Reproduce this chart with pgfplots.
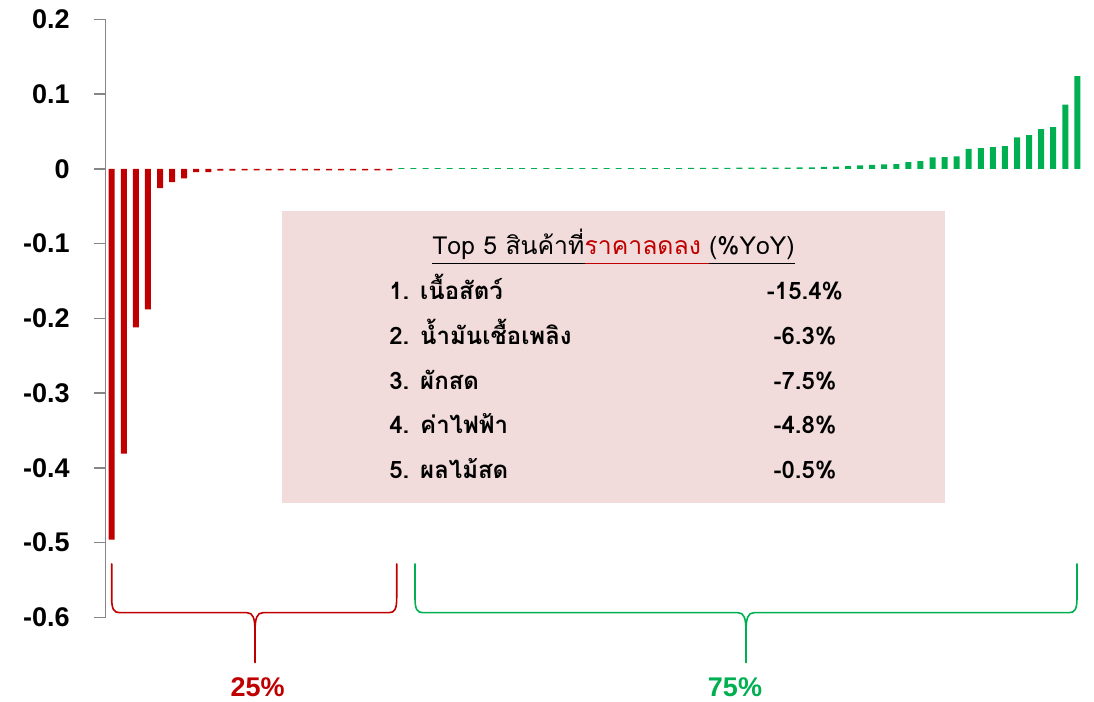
\documentclass[border=0pt]{standalone}
\usepackage{pgfplots}
\pgfplotsset{compat=1.18}
\usepackage{fontspec}
\setmainfont{Liberation Sans}
\newfontfamily\thaifont[Script=Thai]{Loma}
\definecolor{cred}{HTML}{C00000}
\definecolor{cgreen}{HTML}{00B050}
\definecolor{boxpink}{HTML}{F2DCDB}
\definecolor{axgray}{HTML}{868686}
\newcommand\ul[1]{\underline{#1\vphantom{(p}}}
\newcommand\mybrace[4]{%
  \draw[#4, line width=0.8pt, line cap=round] (#1,564) -- (#1,598) .. controls (#1,609) and ({#1+2},612.7) .. ({#1+8},612.7) -- ({#3-8},612.7) .. controls ({#3-2},612.7) and (#3,618) .. (#3,632) -- (#3,662.7);
  \draw[#4, line width=0.8pt, line cap=round] (#2,564) -- (#2,598) .. controls (#2,609) and ({#2-2},612.7) .. ({#2-8},612.7) -- ({#3+8},612.7) .. controls ({#3+2},612.7) and (#3,618) .. (#3,632);
}
\begin{document}
\begin{tikzpicture}
\path[use as bounding box] (0,0) rectangle (547pt,351pt);
\begin{axis}[
  at={(52.85pt,42.35pt)}, anchor=south west,
  scale only axis, width=488.85pt, height=299pt,
  xmin=0.5, xmax=81.5, ymin=-0.6, ymax=0.2,
  axis y line=left, axis x line=none,
  y axis line style={-, axgray, line width=0.75pt},
  ytick={-0.6,-0.5,-0.4,-0.3,-0.2,-0.1,0,0.1,0.2},
  yticklabels={-0.6,-0.5,-0.4,-0.3,-0.2,-0.1,0,0.1,0.2},
  tick align=outside, major tick length=5.85pt,
  ytick style={axgray, line width=0.75pt},
  yticklabel style={font=\bfseries\fontsize{13.5}{16}\selectfont, inner sep=0pt, xshift=-12pt},
  clip=false,
]
\addplot[ybar, bar width=3pt, bar shift=0pt, fill=cred, draw=none] coordinates {
(1,-0.496) (2,-0.381) (3,-0.212) (4,-0.188) (5,-0.026) (6,-0.018) (7,-0.0127) (8,-0.0046)
(9,-0.0046) (10,-0.0025) (11,-0.0025) (12,-0.002) (13,-0.002) (14,-0.002) (15,-0.002)
(16,-0.002) (17,-0.002) (18,-0.002) (19,-0.002) (20,-0.002) (21,-0.002) (22,-0.002)
(23,-0.002) (24,-0.002)
};
\addplot[ybar, bar width=3pt, bar shift=0pt, fill=cgreen, draw=none] coordinates {
(25,0.0009) (26,0.0009) (27,0.0009) (28,0.0009) (29,0.0009) (30,0.0009) (31,0.0009) (32,0.0009)
(33,0.0009) (34,0.0009) (35,0.0009) (36,0.0009) (37,0.0009) (38,0.0009) (39,0.0009) (40,0.0009)
(41,0.0009) (42,0.0009) (43,0.0009) (44,0.0009) (45,0.0009) (46,0.0009) (47,0.0009) (48,0.0009)
(49,0.0012) (50,0.0012) (51,0.0012) (52,0.0012)
(53,0.0015) (54,0.0015) (55,0.0015) (56,0.0015) (57,0.0015)
(58,0.002) (59,0.002) (60,0.0027) (61,0.003) (62,0.0036) (63,0.0045) (64,0.0054) (65,0.006)
(66,0.0062) (67,0.009) (68,0.0103) (69,0.0152) (70,0.0156) (71,0.0165) (72,0.0268) (73,0.0276)
(74,0.029) (75,0.0303) (76,0.042) (77,0.045) (78,0.053) (79,0.0558) (80,0.086) (81,0.124)
};
\end{axis}
\begin{scope}[shift={(0pt,351pt)}, x=0.5pt, y=-0.5pt]
\fill[boxpink] (282,211) rectangle (945,503);
\node[anchor=base, inner sep=0pt, font=\thaifont\fontsize{12.4}{14}\selectfont] at (613.5,255)
  {\ul{Top 5 สินค้าที่}\textcolor{cred}{\ul{ราคาลดลง }}\ul{(\%YoY)}};
\begin{scope}[every node/.style={inner sep=0pt, font=\thaifont\bfseries\fontsize{12}{14}\selectfont}]
\node[anchor=base west] at (389,300) {1. เนื้อสัตว์};
\node[anchor=base west] at (389,345) {2. น้ำมันเชื้อเพลิง};
\node[anchor=base west] at (389,389.5) {3. ผักสด};
\node[anchor=base west] at (389,434) {4. ค่าไฟฟ้า};
\node[anchor=base west] at (389,479) {5. ผลไม้สด};
\node[anchor=base] at (805,300) {-15.4\%};
\node[anchor=base] at (805,345) {-6.3\%};
\node[anchor=base] at (805,389.5) {-7.5\%};
\node[anchor=base] at (805,434) {-4.8\%};
\node[anchor=base] at (805,479) {-0.5\%};
\end{scope}
\mybrace{111.7}{396.7}{255}{cred}
\mybrace{415}{1077}{746}{cgreen}
\node[anchor=base, inner sep=0pt, text=cred, font=\bfseries\fontsize{13.5}{16}\selectfont] at (257.7,697) {25\%};
\node[anchor=base, inner sep=0pt, text=cgreen, font=\bfseries\fontsize{13.5}{16}\selectfont] at (735,697) {75\%};
\end{scope}
\end{tikzpicture}
\end{document}
